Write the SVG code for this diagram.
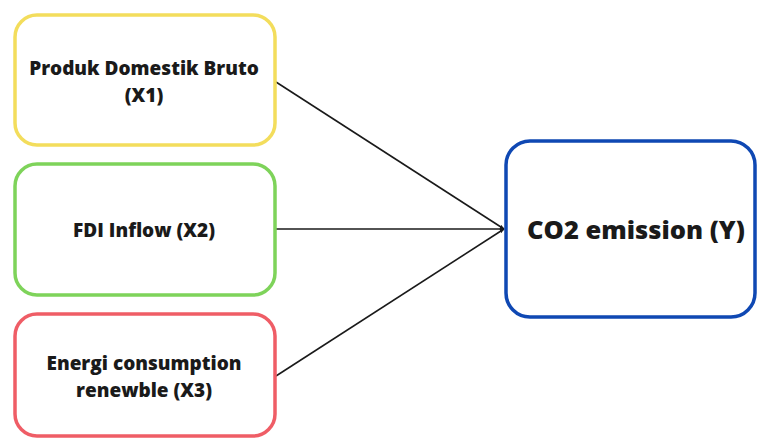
<svg xmlns="http://www.w3.org/2000/svg" width="757" height="438" viewBox="0 0 757 438">
<style>
.box{fill:#fff;stroke-width:3.5}
.t{font-family:"Open Sans","Noto Sans","Liberation Sans",sans-serif;font-weight:800;font-size:19px;fill:#1a1a1a;text-anchor:middle}
.big{font-size:25.5px}
.c{stroke:#1a1a1a;stroke-width:1.6;fill:none}
</style>
<defs>
<marker id="ah" viewBox="0 0 10 10" refX="9" refY="5" markerWidth="5" markerHeight="5" orient="auto" markerUnits="userSpaceOnUse">
<path d="M0,1 L10,5 L0,9 z" fill="#1a1a1a"/>
</marker>
</defs>
<rect width="757" height="438" fill="#fff"/>
<g id="connectors">
<line class="c" x1="276" y1="82" x2="504" y2="229" marker-end="url(#ah)"/>
<line class="c" x1="276" y1="229" x2="504" y2="229" marker-end="url(#ah)"/>
<line class="c" x1="276" y1="376" x2="504" y2="229" marker-end="url(#ah)"/>
</g>
<g id="x1">
<rect class="box" x="15" y="15" width="260" height="130" rx="22" stroke="#f3dd5c"/>
<text class="t" x="144" y="75">Produk Domestik Bruto</text>
<text class="t" x="144" y="102">(X1)</text>
</g>
<g id="x2">
<rect class="box" x="15" y="164" width="260" height="131" rx="22" stroke="#7ed35a"/>
<text class="t" x="144" y="237">FDI Inflow (X2)</text>
</g>
<g id="x3">
<rect class="box" x="15" y="314" width="260" height="122" rx="22" stroke="#ef5d66"/>
<text class="t" x="144" y="370">Energi consumption</text>
<text class="t" x="144" y="397">renewble (X3)</text>
</g>
<g id="y">
<rect class="box" x="506" y="141" width="249" height="176" rx="24" stroke="#0f48b3"/>
<text class="t big" x="636" y="239">CO2 emission (Y)</text>
</g>
</svg>
